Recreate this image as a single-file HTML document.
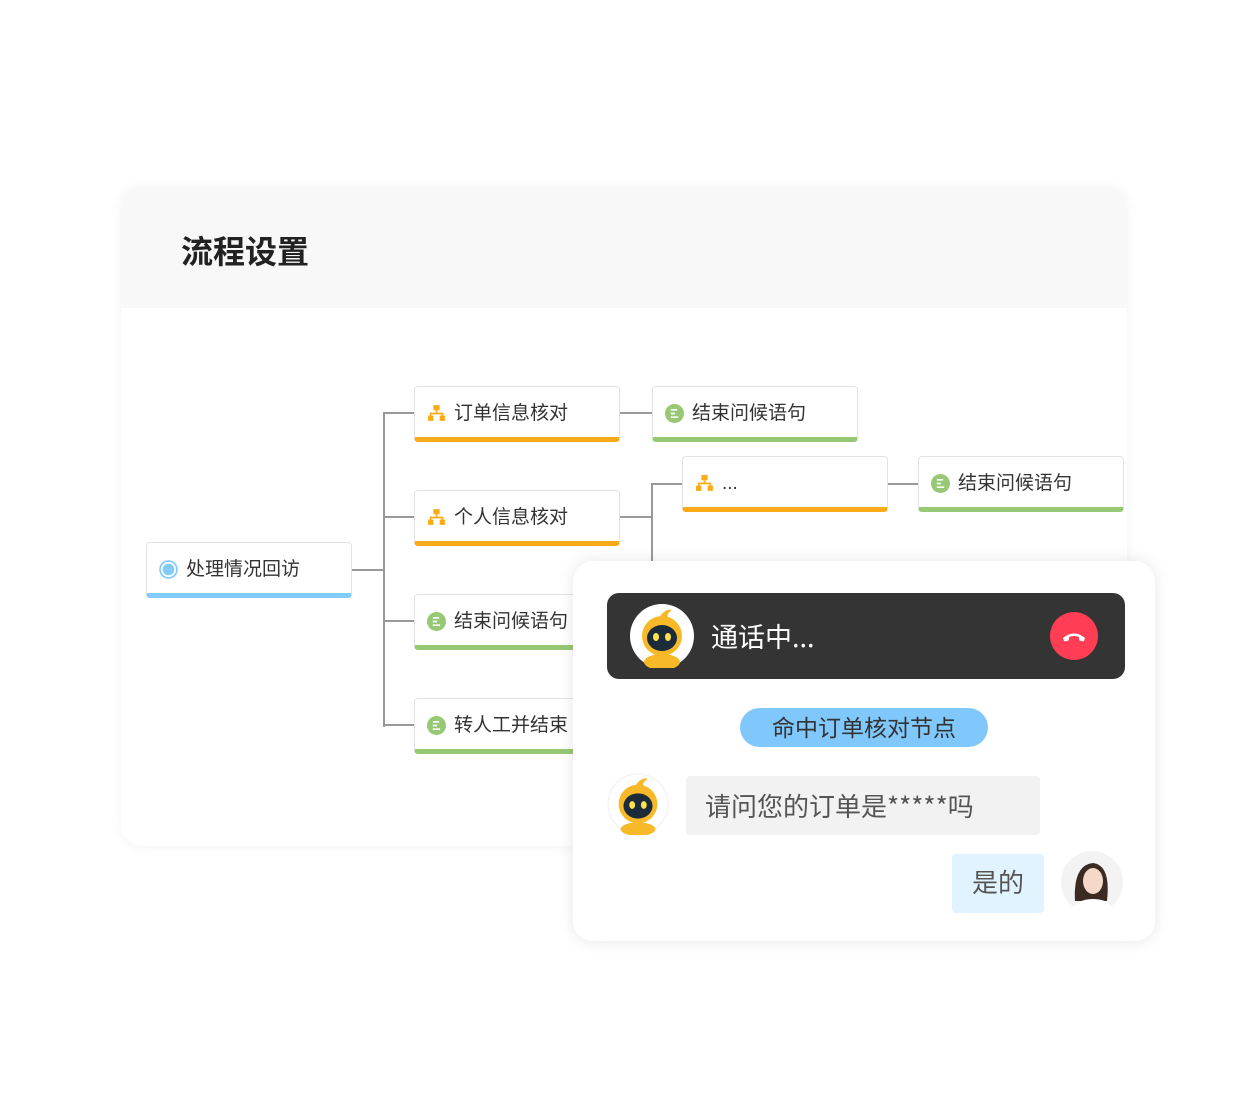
<!DOCTYPE html>
<html><head><meta charset="utf-8"><style>
body{margin:0;width:1248px;height:1120px;background:#fff;position:relative;overflow:hidden;font-family:"Liberation Sans","Noto Sans CJK SC",sans-serif;}
.abs{position:absolute;}
.cjk{font-family:"Noto Sans CJK SC",sans-serif;}
.card{left:121px;top:188px;width:1006px;height:658px;border-radius:20px;background:#fff;box-shadow:0 0 12px rgba(0,0,0,0.06);overflow:hidden;}
.hdr{left:0;top:0;width:100%;height:120px;background:#f8f8f8;}
.title{left:60px;top:39px;font-size:32px;font-weight:bold;color:#222;}
.node{position:absolute;width:206px;height:52px;background:#fff;border:1px solid #e3e3e3;border-radius:4px;box-sizing:border-box;font-size:19px;color:#333;line-height:54px;padding-left:39px;white-space:nowrap;overflow:hidden;}
.o{border-bottom:5px solid #fbab19;}
.g{border-bottom:5px solid #97c974;}
.b{border-bottom:5px solid #82cbfd;}
.ic{position:absolute;left:12px;top:17px;width:19px;height:19px;}
.ln{position:absolute;background:#999;}
.chat{left:573px;top:561px;width:582px;height:380px;background:#fff;border-radius:20px;box-shadow:0 0 16px rgba(0,0,0,0.1);}
</style></head><body>
<div class="abs card"><div class="abs hdr"></div><div class="abs title">流程设置</div></div>
<div class="ln" style="left:352px;top:569px;width:32px;height:2px"></div>
<div class="ln" style="left:383px;top:412px;width:2px;height:315px"></div>
<div class="ln" style="left:383px;top:412px;width:31px;height:2px"></div>
<div class="ln" style="left:383px;top:516px;width:31px;height:2px"></div>
<div class="ln" style="left:383px;top:620px;width:31px;height:2px"></div>
<div class="ln" style="left:383px;top:724px;width:31px;height:2px"></div>
<div class="ln" style="left:620px;top:412px;width:32px;height:2px"></div>
<div class="ln" style="left:620px;top:516px;width:32px;height:2px"></div>
<div class="ln" style="left:651px;top:483px;width:2px;height:80px"></div>
<div class="ln" style="left:651px;top:483px;width:31px;height:2px"></div>
<div class="ln" style="left:888px;top:483px;width:30px;height:2px"></div>

<div class="node b" style="left:146px;top:542px;height:56px;"><svg class="ic" viewBox="0 0 18 18"><circle cx="9" cy="9" r="8" fill="none" stroke="#82cbfd" stroke-width="1.6"/><circle cx="9" cy="9" r="5.5" fill="#82cbfd"/></svg>处理情况回访</div>

<svg width="0" height="0" style="position:absolute"><defs>
<g id="org"><rect x="6" y="1" width="6" height="5" fill="#fbab19"/><path d="M9 6v3M3.5 12V9h11v3" stroke="#fbab19" stroke-width="1.6" fill="none"/><rect x="1" y="11" width="5" height="5" fill="#fbab19"/><rect x="12" y="11" width="5" height="5" fill="#fbab19"/></g>
<g id="grn"><circle cx="9" cy="9" r="9" fill="#97c974"/><path d="M5.5 5.5h6M5.5 9h4M5.5 12.5h7" stroke="#fff" stroke-width="1.6"/></g>
</defs></svg>

<div class="node o" style="left:414px;top:386px;height:56px"><svg class="ic" viewBox="0 0 18 18"><use href="#org"/></svg>订单信息核对</div>
<div class="node o" style="left:414px;top:490px;height:56px"><svg class="ic" viewBox="0 0 18 18"><use href="#org"/></svg>个人信息核对</div>
<div class="node g" style="left:414px;top:594px;height:56px"><svg class="ic" viewBox="0 0 18 18"><use href="#grn"/></svg>结束问候语句</div>
<div class="node g" style="left:414px;top:698px;height:56px"><svg class="ic" viewBox="0 0 18 18"><use href="#grn"/></svg>转人工并结束</div>
<div class="node g" style="left:652px;top:386px;height:56px"><svg class="ic" viewBox="0 0 18 18"><use href="#grn"/></svg>结束问候语句</div>
<div class="node o" style="left:682px;top:456px;height:56px"><svg class="ic" viewBox="0 0 18 18"><use href="#org"/></svg>...</div>
<div class="node g" style="left:918px;top:456px;height:56px"><svg class="ic" viewBox="0 0 18 18"><use href="#grn"/></svg>结束问候语句</div>

<div class="abs chat"></div>
<div class="abs" style="left:607px;top:593px;width:518px;height:86px;background:#343434;border-radius:12px;"></div>
<svg class="abs" style="left:630px;top:604px" width="64" height="64" viewBox="0 0 64 64"><circle cx="32" cy="32" r="32" fill="#fff"/><ellipse cx="32" cy="58" rx="18" ry="8" fill="#f7b928"/><circle cx="32" cy="32" r="20" fill="#f7b928"/><path d="M30 12q6-8 12-6q-6 4-4 8z" fill="#f7b928"/><ellipse cx="32" cy="34" rx="15" ry="13" fill="#1c2b3a"/><ellipse cx="26" cy="33" rx="3" ry="4" fill="#ffe24a"/><ellipse cx="38" cy="33" rx="3" ry="4" fill="#ffe24a"/></svg>
<div class="abs cjk" style="left:711px;top:616px;font-size:27px;color:#fff;line-height:40px">通话中...</div>
<div class="abs" style="left:1050px;top:612px;width:48px;height:48px;border-radius:50%;background:#ff3d55"></div>
<svg class="abs" style="left:1060px;top:626px" width="28" height="20" viewBox="0 0 28 20"><path d="M3 12q11-9 22 0l-1 3q-2 1-5-1l0-3q-5-2-10 0l0 3q-3 2-5 1z" fill="#fff"/></svg>
<div class="abs" style="left:740px;top:708px;width:248px;height:39px;border-radius:20px;background:#80c8fc;text-align:center;font-size:23px;line-height:40px;color:#333">命中订单核对节点</div>
<svg class="abs" style="left:607px;top:773px" width="62" height="62" viewBox="0 0 64 64"><circle cx="32" cy="32" r="31" fill="#fff" stroke="#eee"/><ellipse cx="32" cy="58" rx="18" ry="7" fill="#f7b928"/><circle cx="32" cy="32" r="20" fill="#f7b928"/><path d="M30 12q6-8 12-6q-6 4-4 8z" fill="#f7b928"/><ellipse cx="32" cy="34" rx="15" ry="13" fill="#1c2b3a"/><ellipse cx="26" cy="33" rx="3" ry="4" fill="#ffe24a"/><ellipse cx="38" cy="33" rx="3" ry="4" fill="#ffe24a"/></svg>
<div class="abs cjk" style="left:686px;top:776px;width:354px;height:59px;background:#f2f2f2;border-radius:4px;font-size:26px;line-height:59px;color:#555;padding-left:19px;box-sizing:border-box;white-space:nowrap">请问您的订单是*****吗</div>
<div class="abs" style="left:952px;top:854px;width:92px;height:59px;background:#e1f3ff;border-radius:4px;font-size:26px;line-height:59px;color:#555;text-align:center">是的</div>
<svg class="abs" style="left:1061px;top:851px" width="62" height="62" viewBox="0 0 62 62"><defs><clipPath id="cc"><circle cx="31" cy="31" r="31"/></clipPath></defs><circle cx="31" cy="31" r="31" fill="#f3f3f3"/><g clip-path="url(#cc)"><path d="M14 50q-2-36 18-38q18 2 14 38z" fill="#3a2a22"/><ellipse cx="32" cy="30" rx="10" ry="13" fill="#f6d8c8"/><path d="M10 62q4-14 22-14q18 0 22 14z" fill="#fff"/></g></svg>
</body></html>
